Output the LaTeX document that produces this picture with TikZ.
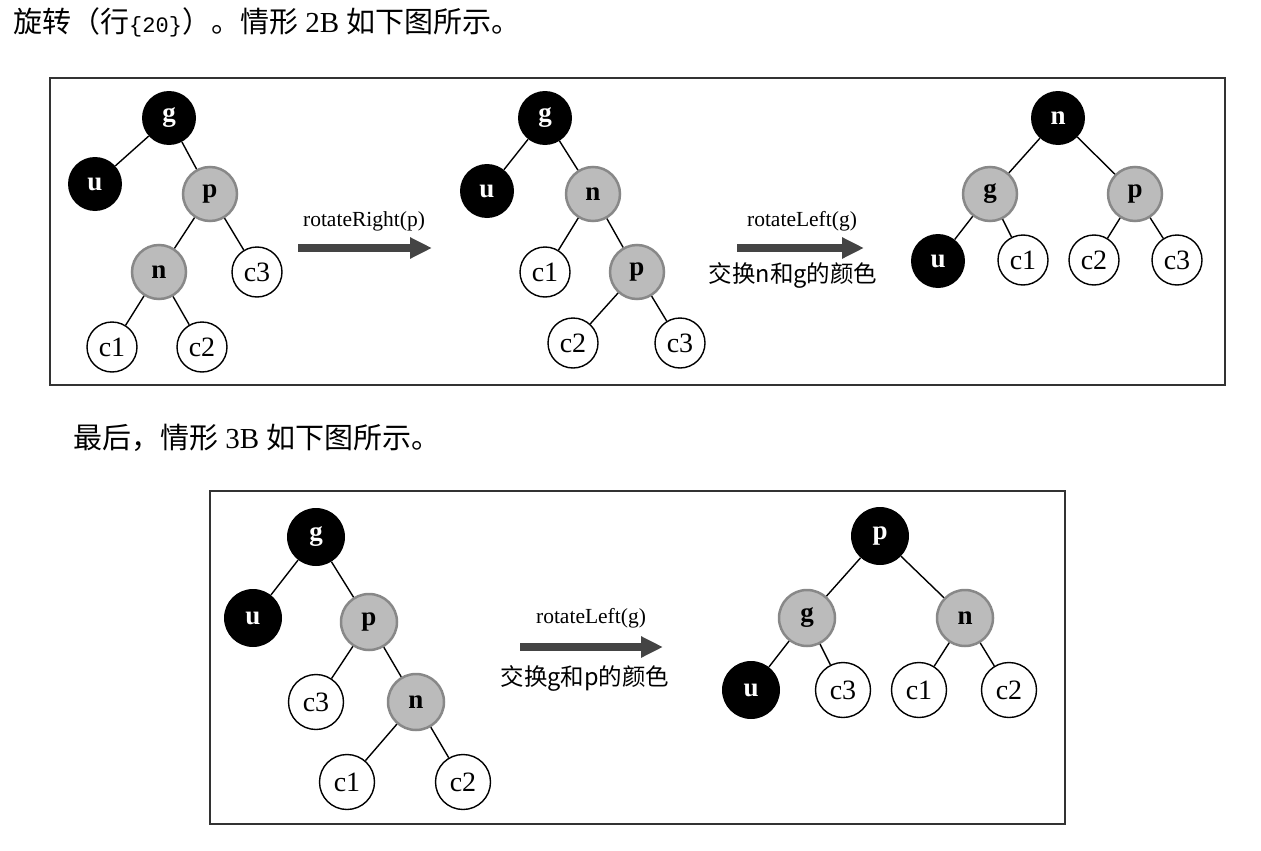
\documentclass[tikz,border=0pt]{standalone}
\usepackage{fontspec}
\setmainfont{Liberation Serif}
\setmonofont{Liberation Mono}
\newfontfamily\cjk{Noto Sans CJK SC}
\usetikzlibrary{
  arrows.meta,
  positioning
}
\definecolor{nodegray}{HTML}{BBBBBB}
\definecolor{rimgray}{HTML}{888888}
\definecolor{arrowgray}{HTML}{444444}
\definecolor{framegray}{HTML}{333333}
\tikzset{
  rb/.style={circle, inner sep=0pt, minimum size=54pt, font=\fontsize{27}{27}\selectfont\bfseries},
  blk/.style={rb, fill=black, text=white},
  gry/.style={rb, fill=nodegray, draw=rimgray, line width=2.5pt},
  wht/.style={rb, draw=black, fill=white, line width=1.4pt, minimum size=50pt, font=\fontsize{28}{28}\selectfont},
  lnk/.style={line width=1.4pt},
  frame/.style={draw=framegray, line width=1.8pt},
  bigarrow/.style={line width=8pt, arrowgray, -{Triangle[length=22pt,width=20pt]}},
  lbl/.style={font=\fontsize{21.5}{21.5}\selectfont},
  cjklbl/.style={font=\cjk\fontsize{23.5}{23.5}\selectfont},
  para/.style={anchor=west, inner sep=0pt, font=\fontsize{29}{29}\selectfont}
}

\begin{document}
\begin{tikzpicture}[x=1pt, y=-1pt]
    \useasboundingbox (0,0) rectangle (1261,851);

    % text lines
    \node[para] (line1) at (13,22) {{\cjk 旋转（行}{\ttfamily\fontsize{22}{22}\selectfont\{20\}}{\cjk ）。情形} 2B {\cjk 如下图所示。}};
    \node[para] (line2) at (73,438) {{\cjk 最后，情形} 3B {\cjk 如下图所示。}};

    % case 2B
    \draw[frame] (50,78) rectangle (1225,385);

    \node[blk] (Ag) at (169,118) {g};
    \node[blk] (Au) at (95,184) {u};
    \node[gry] (Ap) at (210,194) {p};
    \node[gry] (An) at (159,272) {n};
    \node[wht] (Ac3) at (257,272) {c3};
    \node[wht] (Ac1) at (112,347) {c1};
    \node[wht] (Ac2) at (202,347) {c2};
    \draw[lnk] (Ag) -- (Au);
    \draw[lnk] (Ag) -- (Ap);
    \draw[lnk] (Ap) -- (An);
    \draw[lnk] (Ap) -- (Ac3);
    \draw[lnk] (An) -- (Ac1);
    \draw[lnk] (An) -- (Ac2);

    \coordinate (r1s) at (298,248);
    \coordinate (r1e) at (432,248);
    \draw[bigarrow] (r1s) -- (r1e);
    \node[lbl] (r1t) at (364,221) {rotateRight(p)};

    \node[blk] (Bg) at (545,118) {g};
    \node[blk] (Bu) at (487,191) {u};
    \node[gry] (Bn) at (593,194) {n};
    \node[wht] (Bc1) at (545,272) {c1};
    \node[gry] (Bp) at (637,272) {p};
    \node[wht] (Bc2) at (573,343) {c2};
    \node[wht] (Bc3) at (680,343) {c3};
    \draw[lnk] (Bg) -- (Bu);
    \draw[lnk] (Bg) -- (Bn);
    \draw[lnk] (Bn) -- (Bc1);
    \draw[lnk] (Bn) -- (Bp);
    \draw[lnk] (Bp) -- (Bc2);
    \draw[lnk] (Bp) -- (Bc3);

    \coordinate (r2s) at (737,248);
    \coordinate (r2e) at (864,248);
    \draw[bigarrow] (r2s) -- (r2e);
    \node[lbl] (r2t) at (802,221) {rotateLeft(g)};
    \node[cjklbl] (r2c) at (793,275) {交换n和g的颜色};

    \node[blk] (Cn) at (1058,118) {n};
    \node[gry] (Cg) at (990,194) {g};
    \node[gry] (Cp) at (1135,194) {p};
    \node[blk] (Cu) at (938,261) {u};
    \node[wht] (Cc1) at (1023,260) {c1};
    \node[wht] (Cc2) at (1094,260) {c2};
    \node[wht] (Cc3) at (1177,260) {c3};
    \draw[lnk] (Cn) -- (Cg);
    \draw[lnk] (Cn) -- (Cp);
    \draw[lnk] (Cg) -- (Cu);
    \draw[lnk] (Cg) -- (Cc1);
    \draw[lnk] (Cp) -- (Cc2);
    \draw[lnk] (Cp) -- (Cc3);

    % case 3B
    \draw[frame] (210,491) rectangle (1065,824);

    \begin{scope}[blk/.append style={minimum size=58pt},
                  gry/.append style={minimum size=56pt},
                  wht/.append style={minimum size=55pt}]
    \node[blk] (Dg) at (316,537) {g};
    \node[blk] (Du) at (253,618) {u};
    \node[gry] (Dp) at (369,622) {p};
    \node[wht] (Dc3) at (316,702) {c3};
    \node[gry] (Dn) at (416,702) {n};
    \node[wht] (Dc1) at (347,782) {c1};
    \node[wht] (Dc2) at (463,782) {c2};
    \draw[lnk] (Dg) -- (Du);
    \draw[lnk] (Dg) -- (Dp);
    \draw[lnk] (Dp) -- (Dc3);
    \draw[lnk] (Dp) -- (Dn);
    \draw[lnk] (Dn) -- (Dc1);
    \draw[lnk] (Dn) -- (Dc2);

    \coordinate (r3s) at (520,647);
    \coordinate (r3e) at (663,647);
    \draw[bigarrow] (r3s) -- (r3e);
    \node[lbl] (r3t) at (591,618) {rotateLeft(g)};
    \node[cjklbl] (r3c) at (585,678) {交换g和p的颜色};

    \node[blk] (Ep) at (880,536) {p};
    \node[gry] (Eg) at (807,618) {g};
    \node[gry] (En) at (965,618) {n};
    \node[blk] (Eu) at (751,690) {u};
    \node[wht] (Ec3) at (843,690) {c3};
    \node[wht] (Ec1) at (919,690) {c1};
    \node[wht] (Ec2) at (1009,690) {c2};
    \draw[lnk] (Ep) -- (Eg);
    \draw[lnk] (Ep) -- (En);
    \draw[lnk] (Eg) -- (Eu);
    \draw[lnk] (Eg) -- (Ec3);
    \draw[lnk] (En) -- (Ec1);
    \draw[lnk] (En) -- (Ec2);
    \end{scope}
\end{tikzpicture}
\end{document}
